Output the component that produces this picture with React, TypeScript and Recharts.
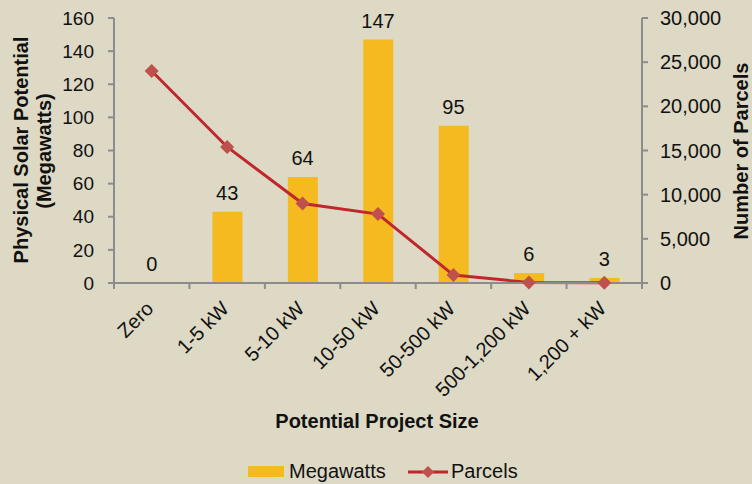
import React from 'react';
import { ComposedChart, Bar, Line, XAxis, YAxis, Legend, LabelList } from 'recharts';

const categories = ['Zero', '1-5 kW', '5-10 kW', '10-50 kW', '50-500 kW', '500-1,200 kW', '1,200 + kW'];
const megawatts = [0, 43, 64, 147, 95, 6, 3];
const parcels = [24000, 15400, 9000, 7800, 900, 60, 20];
const leftTicks = [0, 20, 40, 60, 80, 100, 120, 140, 160];
const rightTicks = [0, 5000, 10000, 15000, 20000, 25000, 30000];

const data = categories.map((name, i) => ({ name, megawatts: megawatts[i], parcels: parcels[i] }));

const FONT = '"Liberation Sans", Arial, sans-serif';
const BG = '#ddd9c4';
const AXIS = '#8c8c8c';
const BAR = '#f5ba20';
const LINE = '#c0272d';
const MARK = '#c0504d';
const TXT = '#111';

const W = 752;
const H = 484;
const LEFT_W = 114;
const RIGHT_W = 110;
const BAND = (W - LEFT_W - RIGHT_W) / categories.length;

const XTick = (props: any) => {
  const { x, y, payload, index } = props;
  const bx = x - BAND / 2;
  const ax = x + 3;
  const ay = y + 27;
  return (
    <g>
      <line x1={bx} x2={bx} y1={y} y2={y + 6} stroke={AXIS} strokeWidth={2} />
      {index === categories.length - 1 && (
        <line x1={x + BAND / 2} x2={x + BAND / 2} y1={y} y2={y + 6} stroke={AXIS} strokeWidth={2} />
      )}
      <text
        x={ax}
        y={ay}
        transform={`rotate(-45, ${ax}, ${ay})`}
        textAnchor="end"
        fontSize={20}
        fontFamily={FONT}
        fill={TXT}
      >
        {payload.value}
      </text>
    </g>
  );
};

const Diamond = (props: any) => {
  const { cx, cy } = props;
  if (cx == null || cy == null) return null;
  const r = 7;
  return <polygon points={`${cx},${cy - r} ${cx + r},${cy} ${cx},${cy + r} ${cx - r},${cy}`} fill={MARK} />;
};

const LegendContent = () => (
  <svg width={W} height={34} style={{ display: 'block' }}>
    <rect x={248} y={16} width={36} height={11} fill={BAR} />
    <text x={289} y={28} fontSize={20} fontFamily={FONT} fill={TXT}>Megawatts</text>
    <line x1={408} x2={448} y1={22} y2={22} stroke={LINE} strokeWidth={3} />
    <polygon points="428,16 434,22 428,28 422,22" fill={MARK} />
    <text x={451} y={28} fontSize={20} fontFamily={FONT} fill={TXT}>Parcels</text>
  </svg>
);

export default function App() {
  return (
    <div style={{ position: 'absolute', left: 0, top: 0, width: W, height: H, background: BG }}>
      <ComposedChart width={W} height={H} data={data} margin={{ top: 18, right: 0, bottom: 0, left: 0 }}>
        <XAxis
          dataKey="name"
          height={167}
          tickSize={0}
          tickMargin={0}
          tickLine={false}
          interval={0}
          axisLine={{ stroke: AXIS, strokeWidth: 2 }}
          tick={<XTick />}
          label={{
            content: () => (
              <text x={377} y={428} textAnchor="middle" fontSize={20} fontWeight="bold" fontFamily={FONT} fill={TXT}>
                Potential Project Size
              </text>
            ),
          }}
        />
        <YAxis
          yAxisId="left"
          width={LEFT_W}
          domain={[0, 160]}
          ticks={leftTicks}
          interval={0}
          tickSize={6}
          tickMargin={14}
          axisLine={{ stroke: AXIS, strokeWidth: 2 }}
          tickLine={{ stroke: AXIS, strokeWidth: 2 }}
          tick={{ fontSize: 19, fontFamily: FONT, fill: TXT }}
          label={{
            content: () => (
              <g fontSize={20} fontWeight="bold" fontFamily={FONT} fill={TXT} textAnchor="middle">
                <text x={28} y={150} transform="rotate(-90, 28, 150)">Physical Solar Potential</text>
                <text x={51} y={151} transform="rotate(-90, 51, 151)">(Megawatts)</text>
              </g>
            ),
          }}
        />
        <YAxis
          yAxisId="right"
          orientation="right"
          width={RIGHT_W}
          domain={[0, 30000]}
          ticks={rightTicks}
          interval={0}
          tickSize={6}
          tickMargin={12}
          axisLine={{ stroke: AXIS, strokeWidth: 2 }}
          tickLine={{ stroke: AXIS, strokeWidth: 2 }}
          tickFormatter={(v: number) => v.toLocaleString('en-US')}
          tick={{ fontSize: 20, fontFamily: FONT, fill: TXT }}
          label={{
            content: () => (
              <text
                x={748}
                y={151}
                transform="rotate(-90, 748, 151)"
                textAnchor="middle"
                fontSize={20}
                fontWeight="bold"
                fontFamily={FONT}
                fill={TXT}
              >
                Number of Parcels
              </text>
            ),
          }}
        />
        <Legend verticalAlign="bottom" height={34} content={<LegendContent />} />
        <Bar yAxisId="left" dataKey="megawatts" name="Megawatts" fill={BAR} barSize={30} isAnimationActive={false} />
        {/* invisible carrier for the bar value labels, so the zero bar gets its "0" too */}
        <Line
          yAxisId="left"
          dataKey="megawatts"
          stroke="none"
          dot={false}
          activeDot={false}
          legendType="none"
          isAnimationActive={false}
        >
          <LabelList dataKey="megawatts" position="top" offset={12} fontSize={20} fontFamily={FONT} fill={TXT} />
        </Line>
        <Line
          yAxisId="right"
          dataKey="parcels"
          name="Parcels"
          stroke={LINE}
          strokeWidth={3}
          dot={<Diamond />}
          activeDot={false}
          isAnimationActive={false}
        />
      </ComposedChart>
    </div>
  );
}
